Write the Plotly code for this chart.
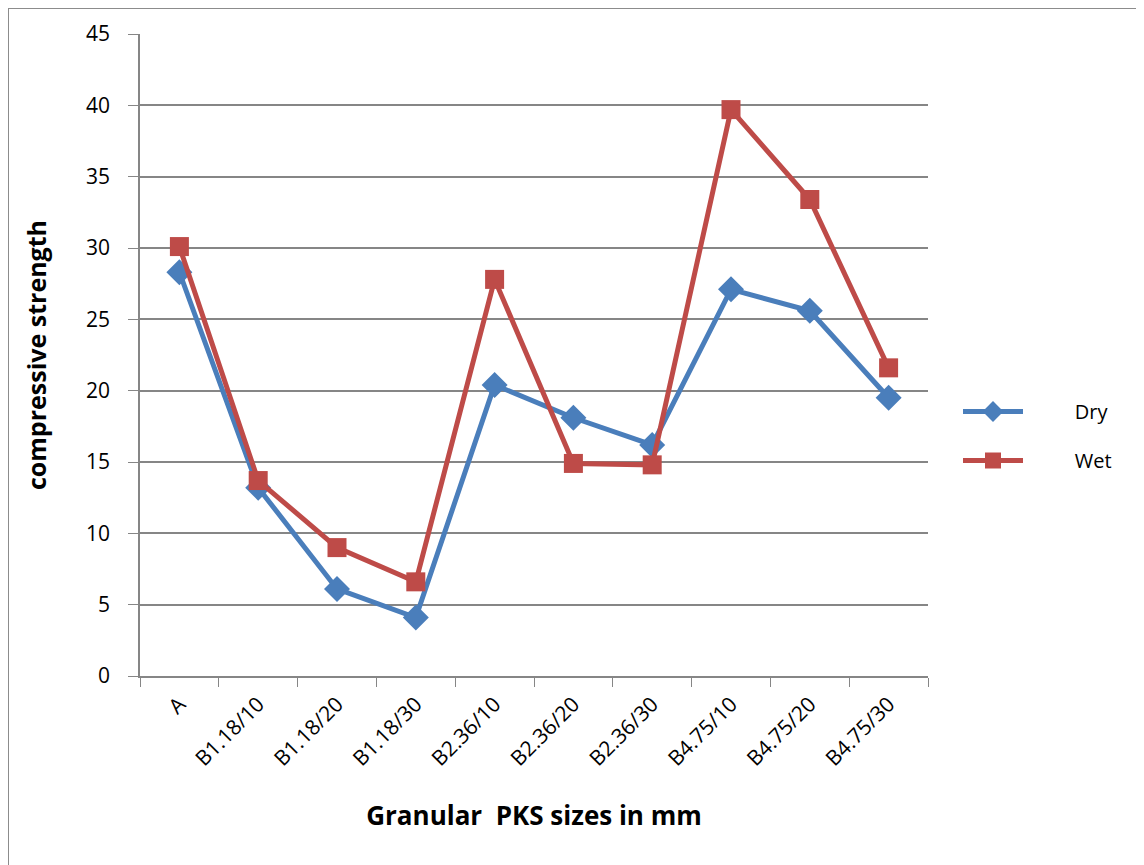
import plotly.graph_objects as go

categories = ["A", "B1.18/10", "B1.18/20", "B1.18/30", "B2.36/10", "B2.36/20",
              "B2.36/30", "B4.75/10", "B4.75/20", "B4.75/30"]
dry = [28.3, 13.2, 6.1, 4.1, 20.4, 18.1, 16.2, 27.1, 25.6, 19.5]
wet = [30.1, 13.7, 9.0, 6.6, 27.8, 14.9, 14.8, 39.7, 33.4, 21.6]
y_ticks = [0, 5, 10, 15, 20, 25, 30, 35, 40, 45]

OFF = 8  # page body margin
W, H = 1144 - OFF, 865 - OFF
L, T = 140 - OFF, 34 - OFF
R, B = 216, 189
pw, ph = W - L - R, H - T - B

font = "Open Sans, Liberation Sans, sans-serif"
blue = "#4a7ebb"
red = "#be4b48"
grid = "#868686"

fig = go.Figure()
fig.add_trace(go.Scatter(x=categories, y=dry, name="         Dry", mode="lines+markers",
                         legendgroup="dry",
                         line=dict(color=blue, width=5),
                         marker=dict(symbol="diamond", size=20, color=blue)))
fig.add_trace(go.Scatter(x=categories, y=wet, name="         Wet", mode="lines+markers",
                         legendgroup="wet",
                         line=dict(color=red, width=5),
                         marker=dict(symbol="square", size=19, color=red)))

def px_x(p):
    return (p - OFF - L) / pw

def px_y(p):
    return (H + OFF - B - p) / ph

fig.add_shape(type="rect", xref="paper", yref="paper",
              x0=px_x(8), x1=px_x(1250), y0=px_y(8), y1=px_y(950),
              line=dict(color="#8c8c8c", width=2), layer="below")

fig.update_layout(
    width=W, height=H,
    margin=dict(l=L, r=R, t=T, b=B, autoexpand=False),
    paper_bgcolor="white", plot_bgcolor="white",
    font=dict(family=font, size=20, color="black"),
    xaxis=dict(
        type="category", range=[-0.5, 9.5],
        tickson="boundaries", ticks="outside", ticklen=9, tickcolor=grid,
        tickangle=-45, showgrid=False, showline=True, linecolor=grid, linewidth=1.5,
        tickfont=dict(size=21), ticklabelstandoff=6,
        title=dict(text="<b>Granular  PKS sizes in mm</b>", font=dict(size=26), standoff=36),
    ),
    yaxis=dict(
        range=[0, 45], tickvals=y_ticks, ticks="outside", ticklen=10, tickcolor=grid,
        showgrid=True, gridcolor=grid, gridwidth=1.5, showline=True, linecolor=grid,
        linewidth=1.5, zeroline=False, tickfont=dict(size=21), ticklabelstandoff=14,
        title=dict(text="<b>compressive strength</b>", font=dict(size=25), standoff=32),
    ),
    legend=dict(x=px_x(958), y=px_y(392), xanchor="left", yanchor="top",
                font=dict(size=20), itemwidth=60, tracegroupgap=20,
                bgcolor="rgba(0,0,0,0)"),
    showlegend=True,
)

fig.write_html("out.html")
